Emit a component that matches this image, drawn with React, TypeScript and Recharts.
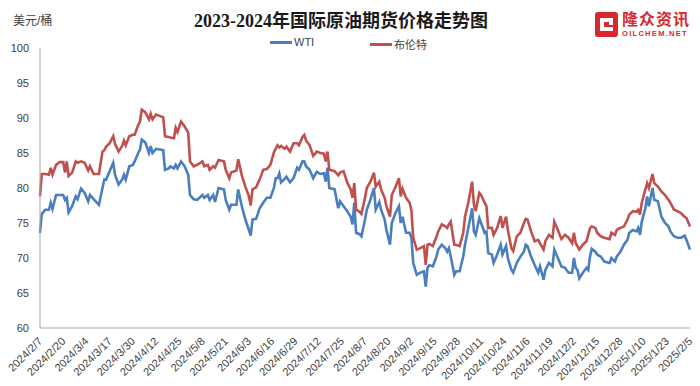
import { Line, LineChart, XAxis, YAxis } from "recharts";

// Daily futures settlements, 2024/2/7 → 2025/2/5. Days are offsets from the first date.
const START = "2024/2/7";

const TICK_LABELS = [
  "2024/2/7", "2024/2/20", "2024/3/4", "2024/3/17", "2024/3/30", "2024/4/12",
  "2024/4/25", "2024/5/8", "2024/5/21", "2024/6/3", "2024/6/16", "2024/6/29",
  "2024/7/12", "2024/7/25", "2024/8/7", "2024/8/20", "2024/9/2", "2024/9/15",
  "2024/9/28", "2024/10/11", "2024/10/24", "2024/11/6", "2024/11/19", "2024/12/2",
  "2024/12/15", "2024/12/28", "2025/1/10", "2025/1/23", "2025/2/5",
];

const Y_TICKS = [60, 65, 70, 75, 80, 85, 90, 95, 100];

const DAY_OFFSET = [
  0, 1, 3, 5, 6, 7, 9, 11, 13, 14, 15, 16, 18, 20, 21, 23, 25, 27, 28, 30,
  33, 35, 36, 37, 39, 41, 42, 44, 46, 47, 48, 50, 52, 53, 55, 56, 57, 59, 61, 62,
  63, 65, 67, 69, 70, 72, 73, 75, 76, 77, 79, 81, 83, 84, 86, 88, 91, 92, 94, 95,
  97, 98, 100, 103, 104, 106, 107, 110, 111, 113, 115, 117, 118, 119, 121, 123, 125, 127, 129, 131,
  132, 133, 134, 135, 137, 138, 140, 142, 144, 145, 147, 148, 149, 151, 153, 155, 157, 159, 160, 161,
  162, 165, 167, 168, 170, 172, 174, 175, 176, 177, 179, 180, 182, 183, 185, 187, 188, 190, 191, 193,
  194, 196, 197, 199, 201, 202, 203, 205, 207, 208, 209, 211, 213, 215, 216, 217, 218, 220, 221, 222,
  223, 225, 227, 228, 229, 230, 232, 233, 235, 237, 238, 240, 242, 243, 244, 246, 247, 249, 250, 251,
  253, 254, 256, 258, 259, 261, 262, 264, 265, 267, 269, 271, 272, 273, 275, 277, 279, 280, 282, 283,
  285, 287, 288, 290, 292, 294, 296, 298, 299, 300, 301, 302, 304, 306, 307, 308, 309, 311, 312, 314,
  316, 319, 320, 322, 323, 325, 327, 329, 330, 332, 334, 335, 336, 337, 339, 340, 341, 343, 344, 346,
  348, 350, 352, 353, 355, 357, 359, 361, 362, 364,
];

const WTI = [
  73.6, 76.3, 76.9, 76.9, 77.9, 77.0, 79.0, 79.0, 79.0, 78.3, 78.6, 76.5, 77.4, 78.8, 78.4, 79.9, 79.3, 78.1, 79.0, 78.4,
  77.6, 80.0, 81.2, 81.2, 82.4, 83.6, 81.9, 80.5, 81.2, 81.9, 81.2, 83.1, 83.3, 83.8, 85.0, 85.5, 86.9, 86.5, 85.0, 86.0,
  85.0, 85.6, 85.5, 85.4, 82.6, 82.8, 83.1, 82.8, 83.3, 82.8, 83.8, 83.1, 81.9, 79.0, 78.4, 78.3, 79.0, 78.6, 79.0, 78.3,
  79.0, 78.0, 80.0, 79.8, 78.3, 76.9, 77.6, 77.6, 79.8, 77.4, 75.5, 74.0, 73.2, 75.5, 75.6, 77.1, 77.9, 78.6, 78.6, 80.0,
  81.4, 81.4, 82.1, 80.8, 81.3, 81.6, 80.8, 81.4, 82.9, 82.6, 83.8, 83.8, 83.1, 82.6, 81.4, 82.3, 82.0, 82.1, 80.9, 82.9,
  80.0, 79.8, 77.1, 78.1, 77.4, 76.7, 75.9, 74.8, 77.9, 73.6, 73.4, 73.1, 75.5, 76.9, 78.3, 80.0, 76.9, 78.0, 76.9, 75.5,
  74.0, 71.9, 75.0, 76.4, 77.4, 75.0, 75.9, 73.6, 73.6, 72.9, 69.3, 67.6, 67.9, 68.1, 65.9, 68.6, 69.0, 68.8, 69.5, 70.2,
  71.2, 71.9, 71.4, 70.9, 71.4, 70.2, 67.6, 68.1, 68.1, 70.2, 71.9, 74.5, 77.1, 73.8, 73.3, 75.7, 75.0, 73.6, 73.8, 70.7,
  70.5, 69.3, 70.5, 71.9, 70.5, 71.7, 70.0, 68.3, 67.9, 69.3, 70.2, 70.9, 71.9, 71.7, 70.2, 69.0, 67.9, 68.8, 66.9, 68.3,
  69.3, 68.8, 71.2, 70.0, 68.8, 68.6, 67.9, 67.9, 70.0, 68.6, 68.3, 67.1, 67.9, 68.6, 68.3, 70.2, 71.3, 70.9, 70.5, 70.2,
  69.5, 69.3, 70.0, 69.5, 70.2, 70.9, 71.9, 72.6, 73.6, 74.0, 73.8, 74.3, 73.3, 75.2, 77.1, 78.8, 77.4, 80.0, 78.3, 78.1,
  75.9, 75.0, 74.5, 73.8, 73.1, 72.9, 72.9, 73.2, 72.6, 71.2,
];

const BRENT = [
  78.8, 82.0, 82.0, 81.9, 82.9, 81.9, 83.3, 83.7, 83.7, 82.2, 83.8, 81.7, 82.2, 83.8, 83.6, 83.8, 83.6, 82.5, 83.1, 82.0,
  82.0, 85.2, 85.4, 85.9, 86.4, 87.4, 86.3, 85.2, 86.0, 86.8, 86.1, 87.4, 87.6, 87.6, 89.0, 89.5, 91.2, 90.8, 89.8, 90.6,
  89.8, 90.5, 90.3, 90.1, 87.4, 87.3, 87.2, 87.1, 88.6, 88.0, 89.5, 88.8, 87.9, 83.8, 83.1, 83.3, 83.8, 83.1, 83.3, 82.6,
  83.1, 82.9, 84.0, 83.8, 82.6, 81.4, 82.2, 82.5, 84.1, 81.8, 80.2, 78.8, 77.5, 79.8, 80.1, 81.2, 82.6, 82.7, 83.3, 85.1,
  85.6, 86.1, 85.8, 86.0, 85.6, 85.9, 85.2, 86.4, 86.4, 86.1, 87.3, 87.6, 86.8, 86.1, 84.6, 85.2, 85.0, 84.9, 83.8, 85.2,
  82.6, 82.4, 81.8, 82.2, 82.4, 80.8, 79.8, 78.6, 80.7, 76.9, 76.6, 76.3, 78.6, 80.0, 80.9, 82.2, 80.2, 80.9, 79.8, 78.6,
  77.4, 75.9, 79.0, 80.1, 81.4, 78.8, 79.9, 78.6, 77.9, 76.8, 72.9, 71.2, 71.4, 71.7, 69.0, 71.9, 72.0, 71.7, 72.4, 73.0,
  73.8, 74.8, 74.5, 74.3, 74.8, 75.2, 71.9, 71.9, 71.7, 73.6, 75.9, 78.1, 80.9, 77.6, 76.7, 79.3, 79.0, 77.9, 77.4, 74.3,
  74.3, 73.3, 74.3, 76.0, 74.3, 75.9, 74.0, 71.4, 71.0, 73.1, 73.6, 75.0, 75.6, 75.5, 73.8, 72.4, 72.6, 72.1, 71.2, 72.4,
  73.3, 72.9, 75.2, 74.0, 72.7, 73.3, 72.9, 72.1, 73.6, 72.1, 71.7, 71.2, 71.9, 72.4, 73.3, 74.3, 74.5, 74.3, 73.6, 73.1,
  72.9, 72.7, 73.6, 73.3, 74.0, 74.3, 74.5, 75.5, 76.2, 76.7, 76.6, 76.9, 76.2, 77.9, 79.8, 80.7, 80.0, 82.0, 80.7, 80.2,
  79.5, 79.0, 78.3, 77.9, 76.9, 76.7, 76.4, 75.9, 75.7, 74.5,
];

const WTI_COLOR = "#4a7ebf";
const BRENT_COLOR = "#c0504d";
const AXIS_COLOR = "#a6a6a6";
const TEXT_COLOR = "#404040";
const SANS = "'Liberation Sans', Arial, 'Noto Sans CJK SC', sans-serif";

function toUtc(label: string): number {
  const [y, m, d] = label.split("/").map(Number);
  return Date.UTC(y, m - 1, d);
}

function dayOf(label: string): number {
  return Math.round((toUtc(label) - toUtc(START)) / 86400000);
}

const TICK_DAYS = TICK_LABELS.map(dayOf);
const LABEL_BY_DAY: Record<number, string> = {};
TICK_LABELS.forEach((l, i) => (LABEL_BY_DAY[TICK_DAYS[i]] = l));

const rows = DAY_OFFSET.map((day, i) => ({ day, wti: WTI[i], brent: BRENT[i] }));

function DateTick({ x, y, payload }: any) {
  const ax = x + 3;
  const ay = y + 6;
  return (
    <text
      x={ax}
      y={ay}
      transform={`rotate(-45 ${ax} ${ay})`}
      textAnchor="end"
      fontSize={11}
      fontFamily={SANS}
      fill={TEXT_COLOR}
    >
      {LABEL_BY_DAY[payload.value]}
    </text>
  );
}

function LegendItem({ color, label, left }: { color: string; label: string; left: number }) {
  return (
    <div style={{ position: "absolute", left, top: 36, display: "flex", alignItems: "center" }}>
      <span style={{ display: "inline-block", width: 22, height: 3, background: color, marginRight: 2 }} />
      <span style={{ fontSize: 11, color: TEXT_COLOR, fontFamily: SANS }}>{label}</span>
    </div>
  );
}

export default function App() {
  return (
    <div
      style={{
        position: "absolute",
        left: 0,
        top: 0,
        width: 700,
        height: 386,
        background: "#fff",
        overflow: "hidden",
      }}
    >
      <div
        style={{
          position: "absolute",
          left: 13,
          top: 11,
          fontSize: 12,
          color: TEXT_COLOR,
          fontFamily: SANS,
        }}
      >
        美元/桶
      </div>
      <div
        style={{
          position: "absolute",
          left: 0,
          top: 6,
          width: 682,
          textAlign: "center",
          fontSize: 18,
          fontWeight: 600,
          color: "#1a1a1a",
          fontFamily: "'Liberation Serif', 'DejaVu Serif', 'Noto Sans CJK SC', serif",
        }}
      >
        2023-2024年国际原油期货价格走势图
      </div>
      <LegendItem color={WTI_COLOR} label="WTI" left={270} />
      <LegendItem color={BRENT_COLOR} label="布伦特" left={370} />

      {/* logo */}
      <div style={{ position: "absolute", left: 595, top: 12, display: "flex", alignItems: "center" }}>
        <svg width={23} height={25}>
          <rect x={0} y={0} width={23} height={25} rx={3} fill="#d7282f" />
          <rect x={5} y={6} width={13} height={4} fill="#fff" />
          <rect x={5} y={6} width={4} height={13} fill="#fff" />
          <rect x={5} y={15} width={13} height={4} fill="#fff" />
          <rect x={14} y={6} width={4} height={7} fill="#fff" />
        </svg>
        <div style={{ marginLeft: 4, color: "#d7282f", fontFamily: SANS, lineHeight: 1 }}>
          <div style={{ fontSize: 16, fontWeight: 700, letterSpacing: 1 }}>隆众资讯</div>
          <div style={{ fontSize: 7.5, fontWeight: 700, letterSpacing: 1.3, marginTop: 2 }}>OILCHEM.NET</div>
        </div>
      </div>

      <LineChart
        width={700}
        height={386}
        data={rows}
        margin={{ top: 48, right: 10, bottom: 0, left: 10 }}
      >
        <XAxis
          dataKey="day"
          type="number"
          domain={[0, 364]}
          ticks={TICK_DAYS}
          interval={0}
          height={58}
          stroke={AXIS_COLOR}
          tickLine={false}
          tick={<DateTick />}
        />
        <YAxis
          domain={[60, 100]}
          ticks={Y_TICKS}
          width={30}
          stroke={AXIS_COLOR}
          tickLine={false}
          tickMargin={5}
          tick={{ fontSize: 11, fill: TEXT_COLOR, fontFamily: SANS }}
        />
        <Line
          dataKey="wti"
          stroke={WTI_COLOR}
          strokeWidth={2.6}
          dot={false}
          type="linear"
          isAnimationActive={false}
        />
        <Line
          dataKey="brent"
          stroke={BRENT_COLOR}
          strokeWidth={2.6}
          dot={false}
          type="linear"
          isAnimationActive={false}
        />
      </LineChart>
    </div>
  );
}
